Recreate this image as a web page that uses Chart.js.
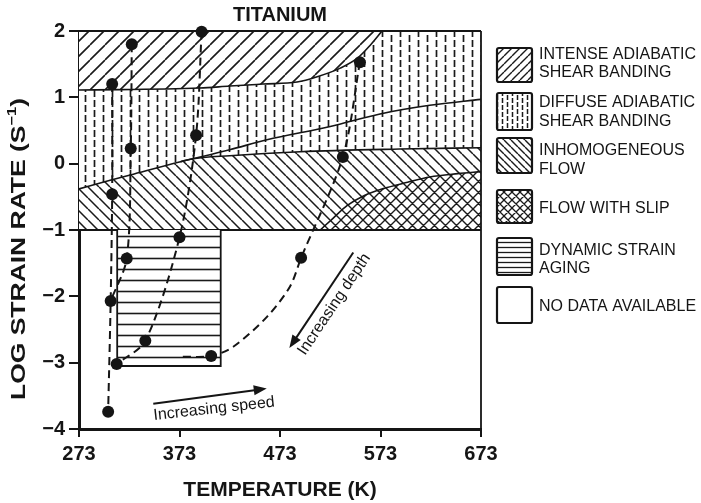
<!DOCTYPE html>
<html>
<head>
<meta charset="utf-8">
<script src="https://cdn.jsdelivr.net/npm/chart.js@4.4.1/dist/chart.umd.min.js"></script>
<style>
  html, body { margin: 0; padding: 0; background: #fff; }
  #wrap { width: 701px; height: 503px; }
</style>
</head>
<body>
<div id="wrap"><canvas id="c" width="701" height="503"></canvas></div>
<script>
// ---------------- DATA ----------------
const chartTitle = 'TITANIUM';
const xAxisTitle = 'TEMPERATURE (K)';
const yAxisTitleMain = 'LOG STRAIN RATE (S';
const yAxisTitleSup = '\u22121';
const yAxisTitleEnd = ')';
const temperatureTicks = [273, 373, 473, 573, 673];
const strainRateTicks = [-4, -3, -2, -1, 0, 1, 2];

const regionNames = [
  ['INTENSE ADIABATIC', 'SHEAR BANDING'],
  ['DIFFUSE ADIABATIC', 'SHEAR BANDING'],
  ['INHOMOGENEOUS', 'FLOW'],
  ['FLOW WITH SLIP'],
  ['DYNAMIC STRAIN', 'AGING'],
  ['NO DATA AVAILABLE']
];

// region boundaries: [temperature K, log strain rate]
const intenseLowerBoundary = [[273, 1.11], [393, 1.14], [423, 1.17], [456, 1.20], [490, 1.23], [510, 1.31], [533, 1.44], [550, 1.59], [563, 1.79], [574.5, 2.0]];
const diffuseLowerBoundary = [[273, -0.38], [304, -0.25], [324, -0.17], [374, 0.03], [385, 0.07], [423, 0.12], [493, 0.18], [592, 0.22], [673, 0.24]];
const diffuseInnerLine = [[374, 0.03], [385, 0.07], [423, 0.21], [460, 0.36], [523, 0.56], [572.5, 0.75], [622, 0.88], [673, 0.97]];
const slipUpperBoundary = [[513, -1.0], [526, -0.82], [540, -0.63], [557, -0.48], [575, -0.38], [600, -0.28], [622, -0.20], [650, -0.15], [673, -0.12]];
const hatchedLowerLimit = [[273, -1.0], [673, -1.0]];
const dsaTemperatureRange = [311, 414];
const dsaStrainRange = [-3.05, -1.0];

// machining trajectories (dashed curves)
const speedCurve1 = [[306, 1.20], [306, -0.46], [304.5, -2.07], [302, -3.74]];
const speedCurve2 = [[325.5, 1.80], [324.5, 0.23], [320.5, -1.43], [304.5, -2.07]];
const speedCurve3 = [[395, 1.99], [389.5, 0.43], [373, -1.11], [339, -2.67], [310.5, -3.02]];
const speedCurve4 = [[552.5, 1.53], [535.5, 0.10], [494, -1.42], [483, -1.85], [460, -2.31], [426.5, -2.76], [404.5, -2.90], [372.5, -2.91]];
// measured points (dots)
const measuredPoints = [
  [306, 1.20], [306, -0.46], [304.5, -2.07], [302, -3.74],
  [325.5, 1.80], [324.5, 0.23], [320.5, -1.43],
  [395, 1.99], [389.5, 0.43], [373, -1.11], [339, -2.67], [310.5, -3.02],
  [552.5, 1.53], [535.5, 0.10], [494, -1.42], [404.5, -2.90]
];

// annotations (data coordinates)
const speedArrow = [[346.9, -3.62], [459.8, -3.39]];
const depthArrow = [[545.9, -1.34], [482.3, -2.78]];
const speedLabel = { text: 'Increasing speed', at: [347.6, -3.865] };
const depthLabel = { text: 'Increasing depth', at: [497.9, -2.90] };

// ---------------- HELPERS ----------------
const FONT = '"Liberation Sans", Arial, Helvetica, sans-serif';
Chart.defaults.font.family = FONT;
const INK = '#151515';
const xy = arr => arr.map(([x, y]) => ({ x, y }));

function makePattern(kind, p, lw, dashLen, gapLen) {
  const c = document.createElement('canvas');
  let w = p, h = p;
  if (kind === 'vdash') { w = 2 * p; h = 2 * (dashLen + gapLen); }
  c.width = w; c.height = h;
  const g = c.getContext('2d');
  g.fillStyle = '#fff';
  g.fillRect(0, 0, w, h);
  g.strokeStyle = '#1a1a1a';
  g.lineWidth = lw;
  g.beginPath();
  if (kind === 'slash' || kind === 'cross') {
    for (let k = -1; k <= 1; k++) { g.moveTo(k * p, p); g.lineTo(k * p + p, 0); }
  }
  if (kind === 'back' || kind === 'cross') {
    for (let k = -1; k <= 1; k++) { g.moveTo(k * p, 0); g.lineTo(k * p + p, p); }
  }
  if (kind === 'hline') {
    g.moveTo(0, p / 2); g.lineTo(p, p / 2);
  }
  if (kind === 'vdash') {
    const per = dashLen + gapLen;
    const cols = [[p / 2, 0], [1.5 * p, Math.round(per / 2)]];
    for (const [cx, off] of cols) {
      for (let y0 = off - per * 2; y0< h + per; y0 += per) {
        g.moveTo(cx, y0); g.lineTo(cx, y0 + dashLen);
      }
    }
  }
  g.stroke();
  return g.createPattern(c, 'repeat');
}

const pat = {
  intense: makePattern('slash', 15, 1.6),
  diffuse: makePattern('vdash', 9, 1.7, 7, 3),
  inhomog: makePattern('back', 11, 1.5),
  slip: makePattern('cross', 11, 1.4),
  dsa: makePattern('hline', 11, 1.6)
};
const legendPat = [
  makePattern('slash', 8, 1.4),
  makePattern('vdash', 5, 1.5, 5, 2),
  makePattern('back', 7, 1.4),
  makePattern('cross', 8, 1.3),
  makePattern('hline', 5, 1.3),
  null
];

// ---------------- PLUGIN: frame, annotations, legend, y title ----------------
const extras = {
  id: 'extras',
  afterDatasetsDraw(chart) {
    const { ctx, chartArea: a, scales: { x, y } } = chart;
    const px = p => [x.getPixelForValue(p[0]), y.getPixelForValue(p[1])];
    ctx.save();
    // frame top and right
    ctx.strokeStyle = INK;
    ctx.lineWidth = 2;
    ctx.beginPath();
    ctx.moveTo(a.left, a.top); ctx.lineTo(a.right, a.top);
    ctx.stroke();
    ctx.lineWidth = 1.8;
    ctx.beginPath();
    ctx.moveTo(a.right, a.top); ctx.lineTo(a.right, a.bottom);
    ctx.stroke();

    // arrows
    function arrow(p0, p1) {
      const [x0, y0] = px(p0), [x1, y1] = px(p1);
      const ang = Math.atan2(y1 - y0, x1 - x0);
      const hl = 13, hw = 5;
      ctx.lineWidth = 2;
      ctx.strokeStyle = INK; ctx.fillStyle = INK;
      ctx.beginPath();
      ctx.moveTo(x0, y0);
      ctx.lineTo(x1 - Math.cos(ang) * hl * 0.8, y1 - Math.sin(ang) * hl * 0.8);
      ctx.stroke();
      ctx.beginPath();
      ctx.moveTo(x1, y1);
      ctx.lineTo(x1 - Math.cos(ang) * hl + Math.sin(ang) * hw, y1 - Math.sin(ang) * hl - Math.cos(ang) * hw);
      ctx.lineTo(x1 - Math.cos(ang) * hl - Math.sin(ang) * hw, y1 - Math.sin(ang) * hl + Math.cos(ang) * hw);
      ctx.closePath();
      ctx.fill();
      return ang;
    }
    arrow(speedArrow[0], speedArrow[1]);
    const dAng = arrow(depthArrow[0], depthArrow[1]);

    ctx.font = '16px ' + FONT;
    ctx.fillStyle = INK;
    ctx.textBaseline = 'alphabetic';
    ctx.textAlign = 'left';
    let [tx, ty] = px(speedLabel.at);
    ctx.save(); ctx.translate(tx, ty); ctx.rotate(-6.4 * Math.PI / 180);
    ctx.fillText(speedLabel.text, 0, 0); ctx.restore();
    [tx, ty] = px(depthLabel.at);
    ctx.save(); ctx.translate(tx, ty); ctx.rotate(dAng + Math.PI);
    ctx.fillText(depthLabel.text, 0, 0); ctx.restore();

    // legend
    const boxes = [[48, 82], [93, 130], [138, 173], [190, 223], [238, 275], [287, 323]];
    const lines = [[55, 73], [103, 122], [151, 170], [209], [251, 269], [307]];
    const bx0 = 497, bx1 = 532;
    regionNames.forEach((names, i) => {
      const [t, b] = boxes[i];
      ctx.beginPath();
      ctx.roundRect(bx0, t, bx1 - bx0, b - t, 2);
      if (legendPat[i]) { ctx.fillStyle = legendPat[i]; ctx.fill(); }
      ctx.lineWidth = 2.2; ctx.strokeStyle = INK; ctx.stroke();
      ctx.fillStyle = INK;
      ctx.font = '16px ' + FONT;
      ctx.textBaseline = 'middle';
      names.forEach((n, j) => ctx.fillText(n, 539, lines[i][j]));
    });

    // y axis title (rotated, with superscript)
    const f1 = 'bold 21px ' + FONT, f2 = 'bold 13px ' + FONT;
    ctx.font = f1;
    const wMain = ctx.measureText(yAxisTitleMain).width;
    const wEnd = ctx.measureText(yAxisTitleEnd).width;
    ctx.font = f2;
    const wSup = ctx.measureText(yAxisTitleSup).width;
    const total = wMain + wSup + wEnd;
    ctx.save();
    ctx.translate(18, 249);
    ctx.rotate(-Math.PI / 2);
    ctx.scale(302 / total, 1);
    ctx.fillStyle = INK;
    ctx.textBaseline = 'middle';
    let cx = -total / 2;
    ctx.font = f1; ctx.fillText(yAxisTitleMain, cx, 1); cx += wMain;
    ctx.font = f2; ctx.fillText(yAxisTitleSup, cx, -6); cx += wSup;
    ctx.font = f1; ctx.fillText(yAxisTitleEnd, cx, 1);
    ctx.restore();

    ctx.restore();
  }
};

// ---------------- DATASETS ----------------
const dashed = d => ({
  data: xy(d), borderColor: INK, borderWidth: 2, borderDash: [8, 5],
  pointRadius: 0, tension: 0.3, fill: false
});

const datasets = [
  { data: xy(measuredPoints), showLine: false, pointRadius: 6, pointBackgroundColor: INK, pointBorderWidth: 0, clip: false },
  dashed(speedCurve1),
  dashed(speedCurve2),
  dashed(speedCurve3),
  dashed(speedCurve4),
  { data: xy(diffuseInnerLine), borderColor: INK, borderWidth: 1.6, pointRadius: 0, cubicInterpolationMode: 'monotone', fill: false },
  { data: xy([[dsaTemperatureRange[0], dsaStrainRange[1]], [dsaTemperatureRange[0], dsaStrainRange[0]], [dsaTemperatureRange[1], dsaStrainRange[0]], [dsaTemperatureRange[1], dsaStrainRange[1]]]),
    borderColor: INK, borderWidth: 1.8, pointRadius: 0, fill: false },
  { data: xy([[dsaTemperatureRange[0], dsaStrainRange[1]], [dsaTemperatureRange[1], dsaStrainRange[1]]]),
    borderWidth: 0, pointRadius: 0, fill: { value: dsaStrainRange[0] }, backgroundColor: pat.dsa },
  { data: xy(hatchedLowerLimit), borderColor: INK, borderWidth: 2, pointRadius: 0, fill: false },
  { data: xy(slipUpperBoundary), borderColor: INK, borderWidth: 1.6, pointRadius: 0, cubicInterpolationMode: 'monotone', fill: { value: -1 }, backgroundColor: pat.slip },
  { data: xy(diffuseLowerBoundary), borderColor: INK, borderWidth: 1.6, pointRadius: 0, cubicInterpolationMode: 'monotone', fill: { value: -1 }, backgroundColor: pat.inhomog },
  { data: xy(intenseLowerBoundary), borderColor: INK, borderWidth: 1.6, pointRadius: 0, cubicInterpolationMode: 'monotone', fill: 'end', backgroundColor: pat.intense },
  { data: xy(diffuseLowerBoundary), borderWidth: 0, pointRadius: 0, cubicInterpolationMode: 'monotone', fill: 'end', backgroundColor: pat.diffuse }
];

new Chart(document.getElementById('c'), {
  type: 'line',
  data: { datasets },
  plugins: [extras],
  options: {
    responsive: false,
    animation: false,
    devicePixelRatio: 1,
    layout: { padding: { left: 0, right: 220, top: 0, bottom: 0 } },
    plugins: {
      legend: { display: false },
      tooltip: { enabled: false },
      title: {
        display: true, text: chartTitle, fullSize: false, color: INK,
        font: { size: 20, weight: 'bold' }, padding: { top: 3, bottom: 4 }
      },
      filler: { propagate: false }
    },
    scales: {
      x: {
        type: 'linear', min: 273, max: 673,
        afterBuildTicks: s => { s.ticks = temperatureTicks.map(v => ({ value: v })); },
        afterFit: s => { s.height = 74; },
        ticks: { color: INK, font: { size: 20, weight: 'bold' }, padding: 5, maxRotation: 0, autoSkip: false },
        grid: { drawOnChartArea: false, drawTicks: true, tickLength: 8, color: INK, lineWidth: 2 },
        border: { display: true, color: INK, width: 3 },
        title: { display: true, text: xAxisTitle, color: INK, font: { size: 21, weight: 'bold' }, padding: { top: 0, bottom: 0 } }
      },
      y: {
        type: 'linear', min: -4, max: 2,
        afterBuildTicks: s => { s.ticks = strainRateTicks.map(v => ({ value: v })); },
        afterFit: s => { s.width = 79; },
        ticks: {
          color: INK, font: { size: 20, weight: 'bold' }, padding: 4,
          callback: v => (v < 0 ? '\u2212' : '') + Math.abs(v)
        },
        grid: { drawOnChartArea: false, drawTicks: true, tickLength: 10, color: INK, lineWidth: 2 },
        border: { display: true, color: INK, width: 3 }
      }
    }
  }
});
</script>
</body>
</html>
